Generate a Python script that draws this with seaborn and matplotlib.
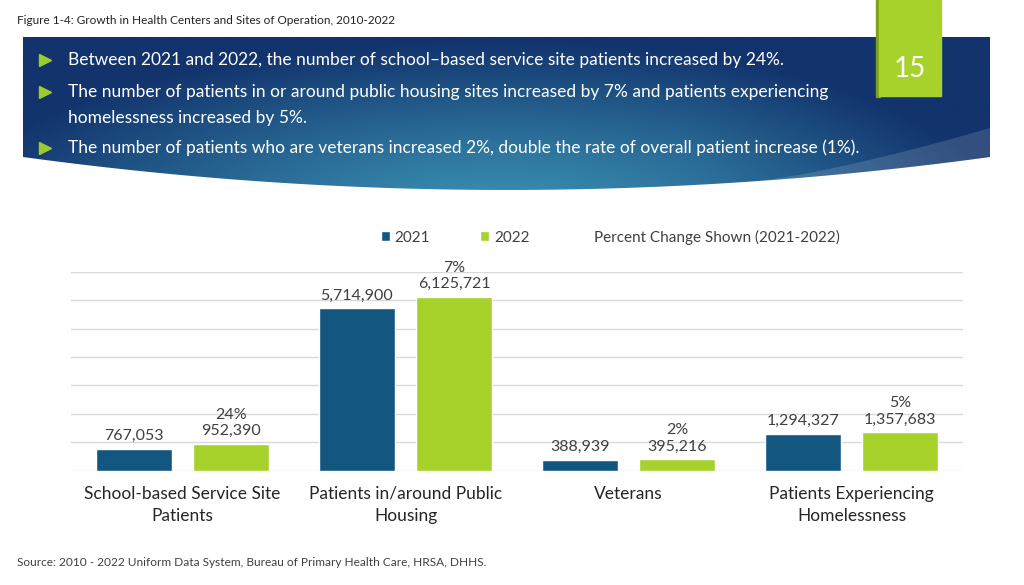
import matplotlib.pyplot as plt
import numpy as np
import pandas as pd
import seaborn as sns
from matplotlib.patches import Patch, Polygon, Rectangle

# data
categories = [
    "School-based Service Site\nPatients",
    "Patients in/around Public\nHousing",
    "Veterans",
    "Patients Experiencing\nHomelessness",
]
patients_2021 = [767053, 5714900, 388939, 1294327]
patients_2022 = [952390, 6125721, 395216, 1357683]
pct_change = ["24%", "7%", "2%", "5%"]
years = ["2021", "2022"]

bullet_lines = [
    "Between 2021 and 2022, the number of school\u2013based service site patients increased by 24%.",
    "The number of patients in or around public housing sites increased by 7% and patients experiencing",
    "homelessness increased by 5%.",
    "The number of patients who are veterans increased 2%, double the rate of overall patient increase (1%).",
]
bullet_marks = [True, True, False, True]

C21 = "#135780"
C22 = "#a6d22b"
TXT = "#404040"

sns.set_theme(style="white")
plt.rcParams["font.family"] = ["Lato", "DejaVu Sans"]

df = pd.DataFrame({
    "category": categories * 2,
    "year": [years[0]] * 4 + [years[1]] * 4,
    "patients": patients_2021 + patients_2022,
})

W, H = 1024, 585
fig = plt.figure(figsize=(W / 100, H / 100), dpi=100)

# === background layer in pixel coords (banner, tab, texts) ===
bg = fig.add_axes([0, 0, 1, 1], zorder=0)
bg.set_xlim(0, W)
bg.set_ylim(H, 0)
bg.axis("off")


def bottom_edge(x):
    return 157 + 1.41e-4 * (x - 23) * (990 - x)


x0, x1, y0 = 23, 990, 37
xs = np.linspace(x1, x0, 80)
poly = Polygon([(x0, y0), (x1, y0)] + list(zip(xs, bottom_edge(xs))), closed=True,
               facecolor="none", edgecolor="none")
bg.add_patch(poly)

gx, gy = np.meshgrid(np.linspace(x0, x1, 400), np.linspace(y0, 195, 120))
r = np.sqrt(((gx - 500) / 560) ** 2 + ((gy - 215) / 175) ** 2).clip(0, 1) ** 1.2
r = np.clip(r + 0.12 * (gx > 700) * ((gx - 700) / 290), 0, 1)
dark = np.array([0x12, 0x33, 0x6c]) / 255
light = np.array([0x3a, 0x92, 0xb4]) / 255
img = light * (1 - r[..., None]) + dark * r[..., None]
im = bg.imshow(img, extent=(x0, x1, 195, y0), aspect="auto", interpolation="bilinear")
im.set_clip_path(poly)

# light swoosh at the bottom right of the banner
sx = np.linspace(750, 990, 40)
top_curve = bottom_edge(750) - (bottom_edge(750) - 128) * ((sx - 750) / 240) ** 1.3
swoosh = Polygon(list(zip(sx, top_curve)) + list(zip(sx[::-1], bottom_edge(sx[::-1]))),
                 closed=True, facecolor="white", alpha=0.14, edgecolor="none")
bg.add_patch(swoosh)

# page-number tab
bg.add_patch(Rectangle((876, 0), 4, 97, color="#7ea01c"))
bg.add_patch(Rectangle((879, 0), 62, 96, color=C22))
bg.text(910, 69, "15", color="white", fontsize=20, ha="center", va="center")

for yb, txt, mark in zip([60, 92, 118, 148], bullet_lines, bullet_marks):
    if mark:
        bg.plot(45, yb, marker=">", color="#9bcc2c", markersize=9)
    bg.text(68, yb, txt, color="white", fontsize=12.5, va="center")

bg.text(17, 20, "Figure 1-4: Growth in Health Centers and Sites of Operation, 2010-2022",
        fontsize=8.5, color="#222222", va="center")
bg.text(17, 563, "Source: 2010 - 2022 Uniform Data System, Bureau of Primary Health Care, HRSA, DHHS.",
        fontsize=8.6, color=TXT, va="center")

# === bar chart ===
ax = fig.add_axes([71 / W, 1 - 470.7 / H, 892 / W, 199 / H], zorder=1)
ax.patch.set_alpha(0)
sns.barplot(data=df, x="category", y="patients", hue="year", palette=[C21, C22],
            width=0.87, gap=0.216, legend=False, ax=ax, saturation=1)

ax.set_ylim(0, 7_000_000)
ax.set_yticks(np.arange(0, 7_000_001, 1_000_000))
ax.set_yticklabels([])
ax.grid(axis="y", color="#d9d9d9", linewidth=1)
ax.set_axisbelow(True)
sns.despine(ax=ax, left=True, bottom=True)
ax.set_xlabel("")
ax.set_ylabel("")
ax.tick_params(axis="x", length=0, pad=11, labelsize=12.5, labelcolor="#262626")
ax.tick_params(axis="y", length=0)
for lab in ax.get_xticklabels():
    lab.set_linespacing(1.5)

for cont, vals in zip(ax.containers, [patients_2021, patients_2022]):
    ax.bar_label(cont, labels=[f"{v:,}" for v in vals], padding=4, fontsize=11.5, color=TXT)

for bar, pct in zip(ax.containers[1], pct_change):
    ax.annotate(pct, (bar.get_x() + bar.get_width() / 2, bar.get_height()),
                xytext=(0, 22), textcoords="offset pixels", ha="center", va="bottom",
                fontsize=11.5, color=TXT)

handles = [Patch(facecolor=C21), Patch(facecolor=C22), Patch(facecolor="none", edgecolor="none")]
ax.legend(handles, years + ["Percent Change Shown (2021-2022)"], ncol=3, frameon=False,
          loc="center", bbox_to_anchor=(610 / W, 1 - 237 / H), bbox_transform=fig.transFigure,
          fontsize=11, labelcolor=TXT, handlelength=0.6, handleheight=0.6,
          handletextpad=0.3, columnspacing=3.3)

fig.savefig("out.png", dpi=100)
